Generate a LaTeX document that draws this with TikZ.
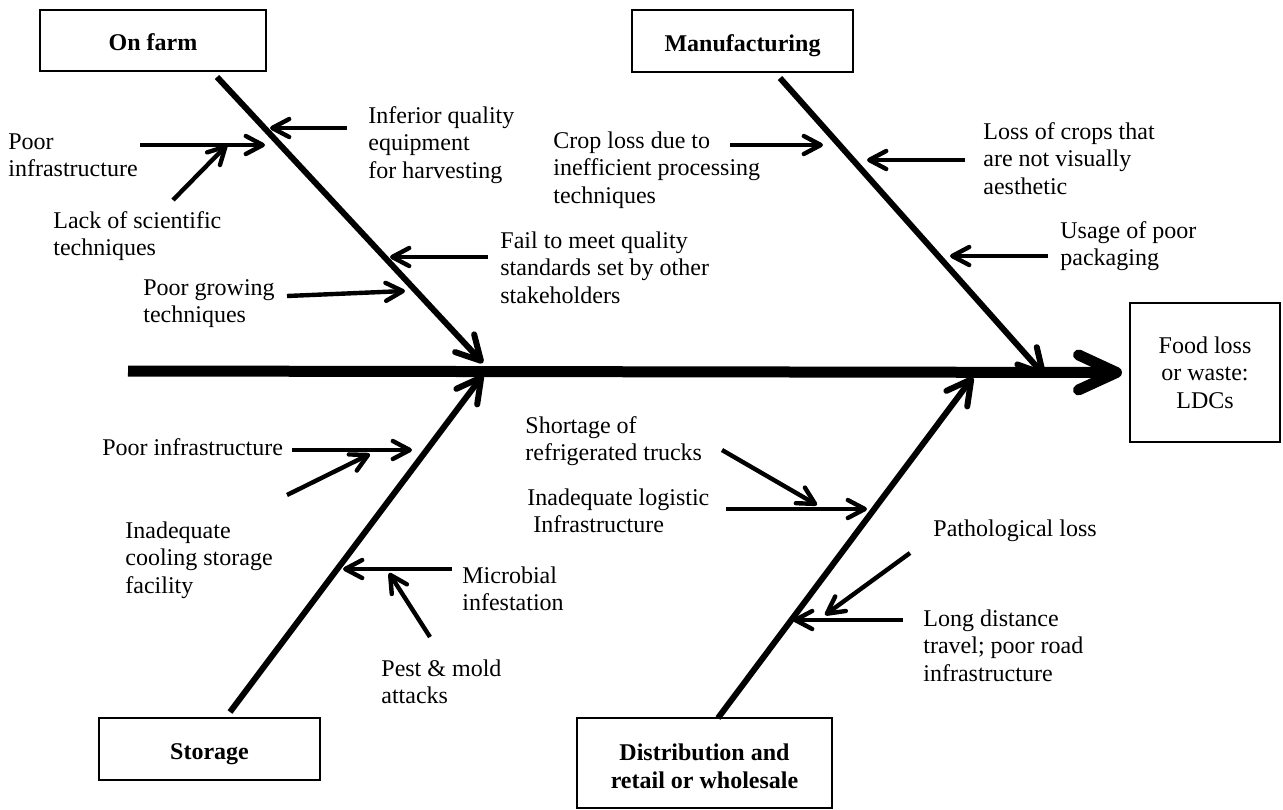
\documentclass[tikz,border=0pt]{standalone}
\usepackage{fontspec}
\setmainfont{Liberation Serif}
\usetikzlibrary{arrows.meta}
\tikzset{
  lbl/.style={anchor=north west, inner sep=0pt, align=left, font=\fontsize{12}{13.8}\selectfont},
  catbox/.style={draw, line width=1pt, inner sep=0pt, align=center, font=\fontsize{12}{13.8}\selectfont\bfseries},
  onebox/.style={catbox, text height=10.9pt, text depth=0pt},
  spine/.style={line width=5.5pt, -{Straight Barb[round,length=19pt,width=17.5pt]}},
  bone/.style={line width=3pt, -{Straight Barb[round,length=12pt,width=13pt]}},
  cause/.style={line width=2.2pt, -{Straight Barb[round,length=8.5pt,width=9pt]}}
}
\begin{document}
\begin{tikzpicture}[x=0.5pt,y=-0.5pt]
\useasboundingbox (0,0) rectangle (1283,809);
% category boxes
\node[onebox, minimum width=113pt, minimum height=30.5pt] (farm) at (153,40) {On farm};
\node[onebox, minimum width=110.5pt, minimum height=31pt] (manu) at (742.5,40.5) {Manufacturing};
\node[onebox, minimum width=110.5pt, minimum height=31pt] (stor) at (209.5,749) {Storage};
\node[catbox, minimum width=127.5pt, minimum height=45pt, text height=25.3pt] (dist) at (704.5,763) {Distribution and\\retail or wholesale};
\node[draw, line width=1pt, inner sep=0pt, align=center, font=\fontsize{12}{13.8}\selectfont, minimum width=75pt, minimum height=69.5pt] (food) at (1205,372.5) {Food loss\\or waste:\\LDCs};
% spine
\coordinate (s0) at (128,371);
\draw[spine, shorten >=3.5pt] (s0) -- (food.west);
% bones
\coordinate (b1s) at (217,77);  \coordinate (b1e) at (483,363);
\coordinate (b2s) at (780,78);  \coordinate (b2e) at (1045,376);
\coordinate (b3s) at (230,712); \coordinate (b3e) at (483,375);
\coordinate (b4s) at (718,718); \coordinate (b4e) at (973,377);
\draw[bone] (b1s) -- (b1e);
\draw[bone] (b2s) -- (b2e);
\draw[bone] (b3s) -- (b3e);
\draw[bone] (b4s) -- (b4e);
% labels
\node[lbl] (t1) at (368,106) {Inferior quality\\equipment\\for harvesting};
\node[lbl] (t2) at (8,133) {Poor\\infrastructure};
\node[lbl] (t3) at (53,211) {Lack of scientific\\techniques};
\node[lbl] (t4) at (500,231) {Fail to meet quality\\standards set by other\\stakeholders};
\node[lbl] (t5) at (143,279) {Poor growing\\techniques};
\node[lbl] (t6) at (553,131) {Crop loss due to\\inefficient processing\\techniques};
\node[lbl] (t7) at (983,122) {Loss of crops that\\are not visually\\aesthetic};
\node[lbl] (t8) at (1060,221) {Usage of poor\\packaging};
\node[lbl] (t9) at (102,438) {Poor infrastructure};
\node[lbl] (t10) at (125,521) {Inadequate\\cooling storage\\facility};
\node[lbl] (t11) at (462,566) {Microbial\\infestation};
\node[lbl] (t12) at (381,659) {Pest \& mold\\attacks};
\node[lbl] (t13) at (525,416) {Shortage of\\refrigerated trucks};
\node[lbl] (t14) at (527,488) {Inadequate logistic\\\hspace*{0.25em}Infrastructure};
\node[lbl] (t15) at (933,519) {Pathological loss};
\node[lbl] (t16) at (923,609) {Long distance\\travel; poor road\\infrastructure};
% cause arrows
\coordinate (c1a) at (347,128); \coordinate (c1b) at (270,128);
\coordinate (c2a) at (140,145); \coordinate (c2b) at (265,145);
\coordinate (c3a) at (173,200); \coordinate (c3b) at (227,145);
\coordinate (c4a) at (488,257); \coordinate (c4b) at (390,257);
\coordinate (c5a) at (287,296); \coordinate (c5b) at (405,291);
\coordinate (c6a) at (730,145); \coordinate (c6b) at (823,145);
\coordinate (c7a) at (965,160); \coordinate (c7b) at (867,160);
\coordinate (c8a) at (1048,256); \coordinate (c8b) at (950,256);
\coordinate (c9a) at (292,450); \coordinate (c9b) at (412,450);
\coordinate (c10a) at (287,495); \coordinate (c10b) at (370,454);
\coordinate (c11a) at (452,569); \coordinate (c11b) at (343,569);
\coordinate (c12a) at (430,637); \coordinate (c12b) at (389,573);
\coordinate (c13a) at (722,450); \coordinate (c13b) at (817,505);
\coordinate (c14a) at (726,509); \coordinate (c14b) at (867,509);
\coordinate (c15a) at (910,553); \coordinate (c15b) at (825,615);
\coordinate (c16a) at (903,620); \coordinate (c16b) at (793,620);
\foreach \i in {1,...,16} {\draw[cause] (c\i a) -- (c\i b);}
\end{tikzpicture}
\end{document}
